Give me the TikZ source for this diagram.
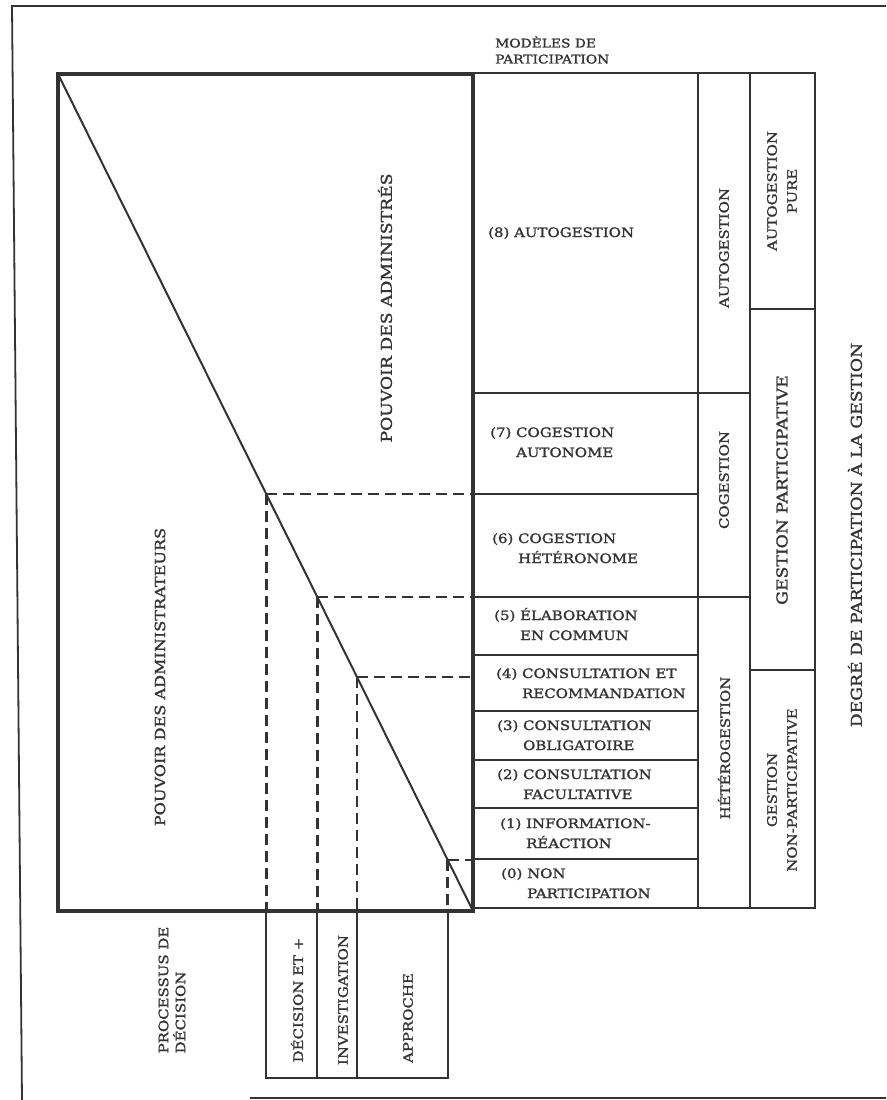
\documentclass[tikz,border=0pt]{standalone}
\usepackage{fontspec}
\setmainfont{DejaVu Serif}[FakeStretch=1.15, FakeBold=1.5]
\usetikzlibrary{calc}
\definecolor{ink}{gray}{0.2}
\newcommand{\modele}[2]{\begin{tabular}{@{}l@{~}l@{}}#1 & #2\end{tabular}}

\begin{document}
\begin{tikzpicture}[x=1pt, y=-1pt, ink, text=ink,
	lbl/.style={font=\fontsize{13}{20}\selectfont, inner sep=0pt},
	vlbl/.style={lbl, rotate=90, align=center},
	grand/.style={vlbl, font=\fontsize{15}{20}\selectfont},
	petit/.style={font=\fontsize{12}{16}\selectfont, inner sep=0pt, align=left},
	trait/.style={line width=2.2pt},
	tirets/.style={line width=2.6pt, dash pattern=on 11pt off 6pt}]
	\useasboundingbox (0,0) rectangle (886,1100);
	% cadre
	\draw[line width=1.8pt] (22,1100) -- (12,6) -- (886,6);
	\draw[line width=1.8pt] (250,1098) -- (886,1098);

	\coordinate (hg) at (58,74);
	\coordinate (bd) at (473,911);
	\draw[line width=4.5pt] (hg) rectangle (bd);
	\draw[line width=2pt] (hg) -- (bd);

	% modeles de participation
	\draw[trait] (473,73) -- (815,73) -- (815,908) -- (473,908);
	\foreach \y in {393,494,597,655,711,760,808,859}
		\draw[trait] (473,\y) -- (698,\y);
	\draw[trait] (698,73) -- (698,908) (750,73) -- (750,908);
	\foreach \y in {393,597} \draw[trait] (698,\y) -- (750,\y);
	\foreach \y in {309,670} \draw[trait] (750,\y) -- (815,\y);

	% projections sur la diagonale
	\foreach \y/\n in {494/a,597/b,677/c,860/d}
	{
		\pgfmathsetmacro\t{(\y-74)/837}
		\coordinate (p\n) at ($(hg)!\t!(bd)$);
		\draw[tirets] (p\n) -- (p\n -| bd);
		\draw[tirets] (p\n) -- (p\n |- bd);
	}
	\draw[trait] (pa |- bd) -- ++(0,167) coordinate (bas) -| (pd |- bd);
	\draw[trait] (pb |- bd) -- (pb |- bas) (pc |- bd) -- (pc |- bas);

	\draw (495,50) node[petit, anchor=west] (titre) {MODÈLES DE\\PARTICIPATION};
	\draw (488,233) node[lbl, anchor=west] (m8) {\modele{(8)}{AUTOGESTION}};
	\draw (490,443) node[lbl, anchor=west] (m7) {\modele{(7)}{COGESTION\\ & AUTONOME}};
	\draw (492,549) node[lbl, anchor=west] (m6) {\modele{(6)}{COGESTION\\ & HÉTÉRONOME}};
	\draw (494,626) node[lbl, anchor=west] (m5) {\modele{(5)}{ÉLABORATION\\ & EN COMMUN}};
	\draw (496,684) node[lbl, anchor=west] (m4) {\modele{(4)}{CONSULTATION ET\\ & RECOMMANDATION}};
	\draw (497,736) node[lbl, anchor=west] (m3) {\modele{(3)}{CONSULTATION\\ & OBLIGATOIRE}};
	\draw (497,785) node[lbl, anchor=west] (m2) {\modele{(2)}{CONSULTATION\\ & FACULTATIVE}};
	\draw (500,834) node[lbl, anchor=west] (m1) {\modele{(1)}{INFORMATION-\\ & RÉACTION}};
	\draw (501,884) node[lbl, anchor=west] (m0) {\modele{(0)}{NON\\ & PARTICIPATION}};

	\draw (160,677) node[grand, font=\fontsize{14}{20}\selectfont] (admr) {POUVOIR DES ADMINISTRATEURS};
	\draw (385,308) node[grand] (adms) {POUVOIR DES ADMINISTRÉS};
	\draw (724,248) node[vlbl] (auto) {AUTOGESTION};
	\draw (724,480) node[vlbl] (coge) {COGESTION};
	\draw (724,748) node[vlbl] (hete) {HÉTÉROGESTION};
	\draw (782,191) node[vlbl] (autop) {AUTOGESTION\\PURE};
	\draw (782,490) node[grand] (gpart) {GESTION PARTICIPATIVE};
	\draw (782,790) node[vlbl] (gnon) {GESTION\\NON-PARTICIPATIVE};
	\draw (855,535) node[grand] (degre) {DEGRÉ DE PARTICIPATION À LA GESTION};

	\draw (172,990) node[petit, rotate=90, font=\fontsize{13}{17}\selectfont] (proc) {PROCESSUS DE\\DÉCISION};
	\draw (297,1000) node[vlbl] (deci) {DÉCISION ET +};
	\draw (343,1000) node[vlbl] (inve) {INVESTIGATION};
	\draw (408,1018) node[vlbl] (appr) {APPROCHE};
\end{tikzpicture}
\end{document}
